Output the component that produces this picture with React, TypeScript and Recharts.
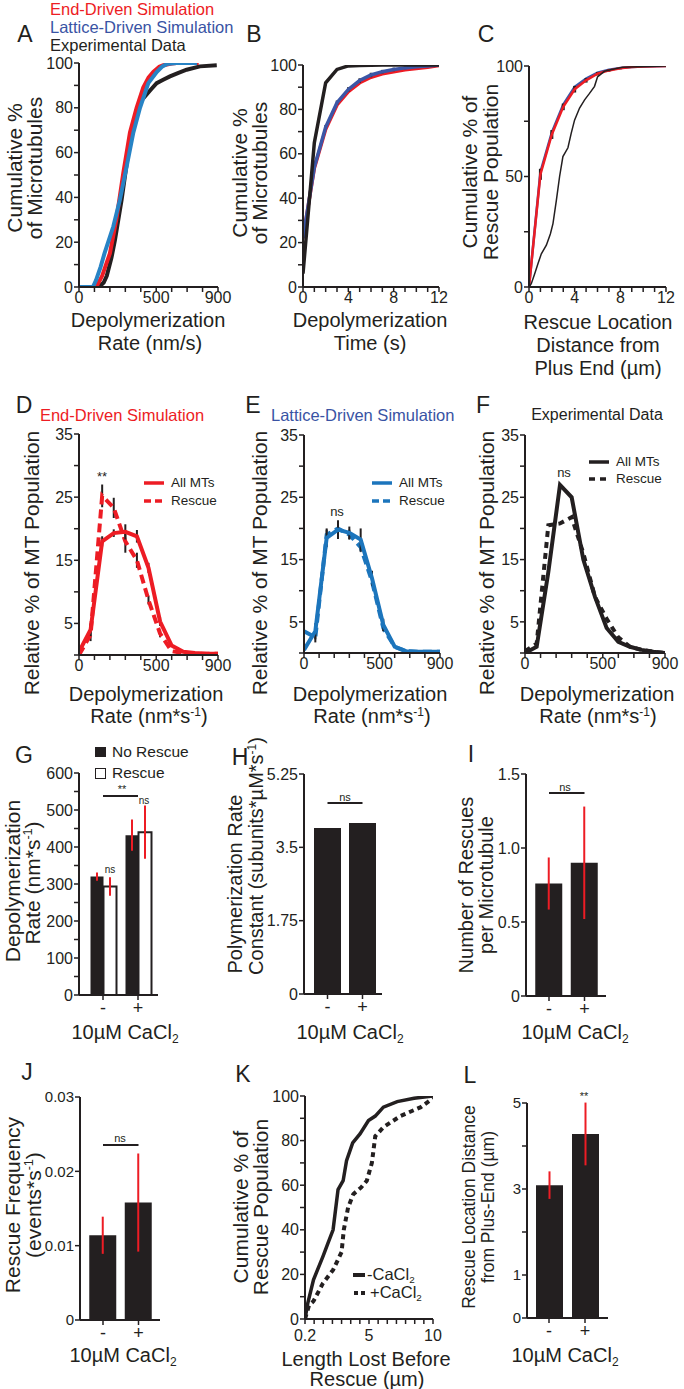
import React from 'react';
import {
  LineChart,
  Line,
  BarChart,
  Bar,
  XAxis,
  YAxis,
  ErrorBar,
  ReferenceLine,
} from 'recharts';

const FONT = '"Liberation Sans", Arial, Helvetica, sans-serif';
const INK = '#231f20';
const RED = '#ed1c24';
const BLUE_TXT = '#3953a4';
const SKY = '#2783c5';
const ROYAL = '#3b56a6';
const E_BLUE = '#1c75bc';

// A: depolymerization rate, cumulative %
const aEndX = [0, 100, 120, 150, 200, 244, 287, 330, 373, 416, 450, 481, 520, 546, 600, 632, 775];
const aEndY = [0, 0, 1, 5, 15, 31, 51, 69, 80, 89, 93.5, 96, 98.3, 99, 99.8, 100, 100];
const aLatX = [0, 90, 110, 140, 165, 222, 265, 309, 352, 395, 449, 503, 540, 568, 632, 765];
const aLatY = [0, 0, 3, 9, 15, 27, 39, 54, 69, 80, 91, 96, 98.5, 99.5, 100, 100];
const aExpX = [0, 130, 160, 180, 210, 233, 276, 319, 350, 373, 400, 438, 470, 503, 545, 589, 640, 697, 783, 892];
const aExpY = [0, 0, 2, 5, 13, 21, 39, 60, 71, 79, 83, 86, 88.5, 91, 92.5, 94, 95.5, 97, 98.5, 99];

// B: depolymerization time (s)
const SECONDS = [0, 1, 2, 3, 4, 5, 6, 7, 8, 9, 10, 11, 12];
const bExp = [6, 65, 92, 98, 99.6, 99.8, 99.9, 100, 100, 100, 100, 100, 100];
const bLat = [22, 54, 72, 83, 89, 93, 95.5, 97, 98, 98.7, 99.2, 99.6, 100];
const bEnd = [22, 53.5, 71, 82, 88, 92, 94.5, 96, 97, 97.8, 98.4, 99, 99.8];
const bErr = [0, 1, 1, 1, 1, 1, 1, 0.8, 0.8, 0.6, 0.5, 0.4, 0];

// C: rescue location distance from plus end (µm)
const cEnd = [0, 51, 69, 81.5, 89.5, 93.5, 96.5, 98, 99, 99.5, 99.8, 99.9, 100];
const cLat = [0, 52, 70, 82.5, 90.5, 94.3, 97, 98.3, 99.1, 99.5, 99.8, 99.9, 100];
const cErr = [0, 2.5, 2, 1.5, 1.5, 1, 0.8, 0.6, 0.5, 0.4, 0, 0, 0];
const cExpX = [0, 0.2, 0.5, 0.79, 1.08, 1.52, 1.87, 2.1, 2.39, 2.68, 2.97, 3.41, 3.7, 3.99, 4.43, 4.87, 5.3, 5.74, 6, 6.6, 7.35, 8.2, 9.7, 12];
const cExpY = [0, 1.5, 6, 10.6, 15, 18.9, 24, 28.7, 39, 50, 59, 63, 69.6, 75.5, 81, 84.7, 87.6, 90.8, 95, 97.6, 98.5, 99.4, 99.7, 100];

// D-F: relative % of MT population per rate bin (nm/s)
const BINS = [0, 75, 150, 225, 300, 375, 450, 525, 600, 675, 750, 825, 900];
const dAll = [0.5, 4, 18, 19.3, 19.5, 18.8, 13.8, 5.3, 1.5, 0.5, 0.3, 0.2, 0.2];
const dRescue = [0, 3.2, 25.2, 23.3, 18, 15, 8.7, 3.4, 0.6, 0.3, 0.2, 0.2, 0.2];
const dAllErr = [0, 1, 0.8, 0.6, 1.2, 1, 0.8, 0.7, 0, 0, 0, 0, 0];
const dRescueErr = [0, 1, 1.8, 1.6, 1.8, 1.2, 0.7, 0.6, 0, 0, 0, 0, 0];
const eAll = [0.5, 3.5, 18.5, 19.8, 19.3, 18.2, 12, 4.5, 1, 0.3, 0.2, 0.2, 0.2];
const eRescue = [3.5, 2.5, 19, 20, 19, 17, 11.5, 4, 1, 0.3, 0.2, 0.2, 0.2];
const eAllErr = [0, 1.3, 1.5, 1.5, 1, 1.8, 1.2, 1, 0, 0, 0, 0, 0];
const eRescueErr = [0, 0.8, 0.8, 0.8, 0.8, 0.8, 0.8, 0.5, 0, 0, 0, 0, 0];
const fAll = [0, 1, 13, 27, 25, 15, 9, 4, 1.8, 1, 0.5, 0.2, 0];
const fRescue = [0.3, 1.5, 20.5, 20.8, 21.8, 16, 9, 5.5, 2.5, 1, 0.5, 0.2, 0];

// G-J, L: bar panels (- / + 10µM CaCl2)
const GROUPS = ['-', '+'];
const gNoRescue = [320, 432];
const gNoRescueErr = [11, 42];
const gRescue = [293, 440];
const gRescueErr = [25, 72];
const hPolyRate = [3.96, 4.08];
const iRescues = [0.76, 0.9];
const iRescuesErr = [0.176, 0.38];
const jFreq = [0.0114, 0.0158];
const jFreqErr = [0.0025, 0.0066];
const lDist = [3.09, 4.28];
const lDistErr = [0.32, 0.73];

// K: length lost before rescue (µm)
const kMinusX = [0.2, 0.41, 0.85, 1.57, 1.96, 2.35, 2.73, 3.12, 3.38, 3.85, 4.41, 5.06, 5.58, 6.2, 7.26, 8.55, 10];
const kMinusY = [0, 7, 17.6, 28, 34, 40, 58, 62, 71, 79, 83, 89, 91, 95, 97.5, 99, 100];
const kPlusX = [0.2, 0.5, 0.85, 1.57, 2.35, 3.0, 3.17, 3.5, 3.9, 4.5, 4.93, 5.32, 5.58, 6.2, 7.5, 9.07, 10];
const kPlusY = [0, 6, 8, 16, 22, 30, 40, 50, 56, 59, 62, 70, 82, 86, 91, 95, 99];

const RATE_TICKS = [0, 100, 200, 300, 400, 500, 600, 700, 800, 900];
const PCT_TICKS = [0, 10, 20, 30, 40, 50, 60, 70, 80, 90, 100];
const REL_TICKS = [0, 5, 10, 15, 20, 25, 30, 35];
const K_TICKS = [0.2, 0.9, 1.6, 2.3, 3.0, 3.7, 4.4, 5.1, 5.8, 6.5, 7.2, 7.9, 8.6, 9.3, 10];

const YW = 50;
const MT = 12;
const MR = 14;
const XH = 30;

const pts = (xs: number[], ys: number[]) => xs.map((x, i) => ({ x, y: ys[i] }));
const only = (labels: number[], f: (v: number) => string = String) => (v: number) =>
  labels.some((l) => Math.abs(l - v) < 1e-9) ? f(v) : '';

const axisStyle = (size: number) => ({
  axisLine: { stroke: INK, strokeWidth: 2 },
  tickLine: { stroke: INK, strokeWidth: 1.5 },
  tickSize: 5,
  tickMargin: 1,
  tick: { fill: INK, fontSize: size, fontFamily: FONT },
  interval: 0 as const,
});

function Plot({ box, xs, ys, bar, data, pad, size = 16, xMargin = 0, children }: any) {
  const [pl, pt, pr, pb] = box;
  const w = pr - pl + YW + MR;
  const h = pb - pt + MT + XH;
  const axis = axisStyle(size);
  const margin = { top: MT, right: MR, left: 0, bottom: 0 };
  const yAxis = (
    <YAxis type="number" domain={ys.domain} ticks={ys.ticks} tickFormatter={ys.fmt} width={YW} allowDataOverflow {...axis} />
  );
  return (
    <div style={{ position: 'absolute', left: pl - YW, top: pt - MT }}>
      {bar ? (
        <BarChart width={w} height={h} data={data} margin={margin} barGap={0}>
          <XAxis dataKey="g" type="category" padding={pad} height={XH} {...axis} tick={{ fill: INK, fontSize: 18, fontFamily: FONT }} />
          {yAxis}
          {children}
        </BarChart>
      ) : (
        <LineChart width={w} height={h} margin={margin}>
          <XAxis dataKey="x" type="number" domain={xs.domain} ticks={xs.ticks} tickFormatter={xs.fmt} height={XH} allowDataOverflow {...axis} tickMargin={xMargin} />
          {yAxis}
          {children}
        </LineChart>
      )}
    </div>
  );
}

function T({ x, y, s = 20, c = INK, a = 'middle', children }: any) {
  const tx = a === 'middle' ? '-50%' : a === 'end' ? '-100%' : '0';
  return (
    <div
      style={{
        position: 'absolute',
        left: x,
        top: y,
        transform: `translate(${tx}, -50%)`,
        fontSize: s,
        color: c,
        whiteSpace: 'nowrap',
        lineHeight: 1,
      }}
    >
      {children}
    </div>
  );
}

function VT({ x, y, s = 21, children }: any) {
  return (
    <div
      style={{
        position: 'absolute',
        left: x,
        top: y,
        transform: 'translate(-50%, -50%) rotate(-90deg)',
        fontSize: s,
        color: INK,
        whiteSpace: 'nowrap',
        lineHeight: 1,
      }}
    >
      {children}
    </div>
  );
}

const Sub = ({ children }: any) => <span style={{ fontSize: '0.6em', position: 'relative', top: '0.35em' }}>{children}</span>;
const Sup = ({ children }: any) => <span style={{ fontSize: '0.6em', position: 'relative', top: '-0.6em' }}>{children}</span>;
const Ca = () => (
  <>
    10µM CaCl<Sub>2</Sub>
  </>
);
const PerS = () => (
  <>
    s<Sup>-1</Sup>
  </>
);

function Swatch({ x, y, w = 20, color, dash, sw = 3.5 }: any) {
  return (
    <svg style={{ position: 'absolute', left: x, top: y - 4 }} width={w} height={8}>
      <line x1={0} y1={4} x2={w} y2={4} stroke={color} strokeWidth={sw} strokeDasharray={dash} />
    </svg>
  );
}

function binRows(all: number[], rescue: number[], allErr?: number[], rescueErr?: number[]) {
  return BINS.map((x, i) => ({
    x,
    all: all[i],
    rescue: rescue[i],
    allErr: allErr ? allErr[i] : 0,
    rescueErr: rescueErr ? rescueErr[i] : 0,
  }));
}

function DistPanel({ box, rows, color, dash, err }: any) {
  return (
    <Plot
      box={box}
      xs={{ domain: [0, 900], ticks: RATE_TICKS, fmt: only([0, 500, 900]) }}
      ys={{ domain: [0, 35], ticks: REL_TICKS, fmt: only([5, 15, 25, 35]) }}
    >
      <Line data={rows} dataKey="rescue" type="linear" stroke={color} strokeWidth={4} strokeDasharray={dash} dot={false} isAnimationActive={false}>
        {err && <ErrorBar dataKey="rescueErr" width={0} stroke={INK} strokeWidth={2} direction="y" />}
      </Line>
      <Line data={rows} dataKey="all" type="linear" stroke={color} strokeWidth={4} dot={false} isAnimationActive={false}>
        {err && <ErrorBar dataKey="allErr" width={0} stroke={INK} strokeWidth={2} direction="y" />}
      </Line>
    </Plot>
  );
}

const rowsOf = (vals: number[], errs?: number[]) =>
  GROUPS.map((g, i) => ({ g, v: vals[i], err: errs ? errs[i] : 0 }));

const gRows = GROUPS.map((g, i) => ({
  g,
  noRescue: gNoRescue[i],
  noRescueErr: gNoRescueErr[i],
  rescue: gRescue[i],
  rescueErr: gRescueErr[i],
}));

const bRows = SECONDS.map((x, i) => ({ x, exp: bExp[i], lat: bLat[i], end: bEnd[i], err: bErr[i] }));
const cRows = SECONDS.map((x, i) => ({ x, end: cEnd[i], lat: cLat[i], err: cErr[i] }));

export default function App() {
  return (
    <div
      style={{
        position: 'absolute',
        left: 0,
        top: 0,
        width: 684,
        height: 1389,
        background: '#fff',
        fontFamily: FONT,
        color: INK,
        overflow: 'hidden',
      }}
    >
      {/* ---------- row 1 ---------- */}
      <T x={50} y={9} s={16.5} c={RED} a="start">End-Driven Simulation</T>
      <T x={50} y={27} s={16.5} c={BLUE_TXT} a="start">Lattice-Driven Simulation</T>
      <T x={50} y={45} s={16.5} a="start">Experimental Data</T>
      <T x={25} y={34} s={23}>A</T>
      <T x={254} y={34} s={23}>B</T>
      <T x={486} y={34} s={23}>C</T>

      <Plot
        box={[79, 63, 218, 287]}
        xs={{ domain: [0, 900], ticks: RATE_TICKS, fmt: only([0, 500, 900]) }}
        ys={{ domain: [0, 100], ticks: PCT_TICKS, fmt: only([0, 20, 40, 60, 80, 100]) }}
      >
        <Line data={pts(aExpX, aExpY)} dataKey="y" stroke={INK} strokeWidth={4} dot={false} isAnimationActive={false} />
        <Line data={pts(aEndX, aEndY)} dataKey="y" stroke={RED} strokeWidth={4} dot={false} isAnimationActive={false} />
        <Line data={pts(aLatX, aLatY)} dataKey="y" stroke={SKY} strokeWidth={4} dot={false} isAnimationActive={false} />
      </Plot>
      <VT x={14} y={168}>Cumulative %</VT>
      <VT x={34} y={168}>of Microtubules</VT>
      <T x={148} y={320}>Depolymerization</T>
      <T x={150} y={343}>Rate (nm/s)</T>

      <Plot
        box={[303, 65, 439, 287]}
        xs={{ domain: [0, 12], ticks: SECONDS, fmt: only([0, 4, 8, 12]) }}
        ys={{ domain: [0, 100], ticks: PCT_TICKS, fmt: only([0, 20, 40, 60, 80, 100]) }}
      >
        <Line data={bRows} dataKey="end" stroke={RED} strokeWidth={3.5} dot={false} isAnimationActive={false} />
        <Line data={bRows} dataKey="lat" stroke={ROYAL} strokeWidth={3.5} dot={false} isAnimationActive={false}>
          <ErrorBar dataKey="err" width={0} stroke={INK} strokeWidth={2.5} direction="y" />
        </Line>
        <Line data={bRows} dataKey="exp" stroke={INK} strokeWidth={3.5} dot={false} isAnimationActive={false} />
      </Plot>
      <VT x={239} y={173}>Cumulative %</VT>
      <VT x={259} y={173}>of Microtubules</VT>
      <T x={370} y={320}>Depolymerization</T>
      <T x={370} y={343}>Time (s)</T>

      <Plot
        box={[529, 66, 666, 287]}
        xs={{ domain: [0, 12], ticks: SECONDS, fmt: only([0, 4, 8, 12]) }}
        ys={{ domain: [0, 100], ticks: [0, 25, 50, 75, 100], fmt: only([0, 50, 100]) }}
      >
        <Line data={cRows} dataKey="lat" stroke={ROYAL} strokeWidth={2.5} dot={false} isAnimationActive={false} />
        <Line data={cRows} dataKey="end" stroke={RED} strokeWidth={2.5} dot={false} isAnimationActive={false}>
          <ErrorBar dataKey="err" width={0} stroke={INK} strokeWidth={3} direction="y" />
        </Line>
        <Line data={pts(cExpX, cExpY)} dataKey="y" stroke={INK} strokeWidth={1.5} dot={false} isAnimationActive={false} />
      </Plot>
      <VT x={469} y={172}>Cumulative % of</VT>
      <VT x={490} y={172}>Rescue Population</VT>
      <T x={598} y={322}>Rescue Location</T>
      <T x={598} y={345}>Distance from</T>
      <T x={598} y={368}>Plus End (µm)</T>

      {/* ---------- row 2 ---------- */}
      <T x={24} y={405} s={23}>D</T>
      <T x={122} y={415} s={16.5} c={RED}>End-Driven Simulation</T>
      <T x={253} y={405} s={23}>E</T>
      <T x={271} y={415} s={16.5} c={BLUE_TXT} a="start">Lattice-Driven Simulation</T>
      <T x={483} y={405} s={23}>F</T>
      <T x={597} y={415} s={16}>Experimental Data</T>

      <DistPanel box={[79, 434, 218, 655]} rows={binRows(dAll, dRescue, dAllErr, dRescueErr)} color={RED} dash="9 5" err />
      <DistPanel box={[304, 435, 440, 653]} rows={binRows(eAll, eRescue, eAllErr, eRescueErr)} color={E_BLUE} dash="9 5" err />
      <DistPanel box={[525, 435, 665, 653]} rows={binRows(fAll, fRescue)} color={INK} dash="6 5" />

      <Swatch x={144} y={483} color={RED} />
      <Swatch x={144} y={501} color={RED} dash="7 4" />
      <T x={171} y={483} s={13.5} a="start">All MTs</T>
      <T x={171} y={501} s={13.5} a="start">Rescue</T>
      <Swatch x={372} y={483} color={E_BLUE} />
      <Swatch x={372} y={501} color={E_BLUE} dash="7 4" />
      <T x={399} y={483} s={13.5} a="start">All MTs</T>
      <T x={399} y={501} s={13.5} a="start">Rescue</T>
      <Swatch x={589} y={462} color={INK} />
      <Swatch x={589} y={479} color={INK} dash="6 5" />
      <T x={616} y={462} s={13.5} a="start">All MTs</T>
      <T x={616} y={479} s={13.5} a="start">Rescue</T>

      <T x={102} y={476} s={13}>**</T>
      <T x={337} y={511} s={13}>ns</T>
      <T x={564} y={472} s={13}>ns</T>

      <VT x={31} y={563}>Relative % of MT Population</VT>
      <VT x={259} y={563}>Relative % of MT Population</VT>
      <VT x={486} y={563}>Relative % of MT Population</VT>
      <T x={146} y={694}>Depolymerization</T>
      <T x={149} y={716}>Rate (nm*<PerS />)</T>
      <T x={370} y={694}>Depolymerization</T>
      <T x={372} y={716}>Rate (nm*<PerS />)</T>
      <T x={597} y={694}>Depolymerization</T>
      <T x={598} y={716}>Rate (nm*<PerS />)</T>

      {/* ---------- row 3 ---------- */}
      <T x={24} y={755} s={23}>G</T>
      <T x={240} y={757} s={23}>H</T>
      <T x={471} y={754} s={23}>I</T>

      <div style={{ position: 'absolute', left: 95, top: 747, width: 11, height: 10, background: INK }} />
      <div style={{ position: 'absolute', left: 95, top: 768, width: 9, height: 9, border: `1.5px solid ${INK}`, background: '#fff' }} />
      <T x={112} y={752} s={15.5} a="start">No Rescue</T>
      <T x={112} y={773} s={15.5} a="start">Rescue</T>

      <Plot
        bar
        box={[79, 773, 158, 995]}
        data={gRows}
        pad={{ left: 6.5, right: 2.5 }}
        ys={{ domain: [0, 600], ticks: [0, 50, 100, 150, 200, 250, 300, 350, 400, 450, 500, 550, 600], fmt: only([0, 100, 200, 300, 400, 500, 600]) }}
      >
        <Bar dataKey="noRescue" barSize={13} fill={INK} isAnimationActive={false}>
          <ErrorBar dataKey="noRescueErr" width={0} stroke={RED} strokeWidth={2} direction="y" />
        </Bar>
        <Bar dataKey="rescue" barSize={13} fill="#fff" stroke={INK} strokeWidth={2} isAnimationActive={false}>
          <ErrorBar dataKey="rescueErr" width={0} stroke={RED} strokeWidth={2} direction="y" />
        </Bar>
        <ReferenceLine segment={[{ x: '-', y: 538 }, { x: '+', y: 538 }]} stroke={INK} strokeWidth={2} ifOverflow="visible" />
      </Plot>
      <T x={122} y={789} s={11}>**</T>
      <T x={110} y={870} s={10}>ns</T>
      <T x={144} y={801} s={10}>ns</T>
      <VT x={12} y={881}>Depolymerization</VT>
      <VT x={32} y={883}>Rate (nm*<PerS />)</VT>
      <T x={125} y={1032}><Ca /></T>

      <Plot
        bar
        box={[304, 774, 382, 994]}
        data={rowsOf(hPolyRate)}
        pad={{ left: 6, right: 2 }}
        ys={{ domain: [0, 5.25], ticks: [0, 1.75, 3.5, 5.25], fmt: String }}
      >
        <Bar dataKey="v" barSize={27} fill={INK} isAnimationActive={false} />
        <ReferenceLine segment={[{ x: '-', y: 4.56 }, { x: '+', y: 4.56 }]} stroke={INK} strokeWidth={2} ifOverflow="visible" />
      </Plot>
      <T x={345} y={797} s={11}>ns</T>
      <VT x={235} y={884} s={20}>Polymerization Rate</VT>
      <VT x={256} y={856} s={20}>Constant (subunits*µM*<PerS />)</VT>
      <T x={350} y={1032}><Ca /></T>

      <Plot
        bar
        box={[526, 774, 606, 996]}
        data={rowsOf(iRescues, iRescuesErr)}
        pad={{ left: 5.25, right: 3.75 }}
        ys={{ domain: [0, 1.5], ticks: [0, 0.5, 1, 1.5], fmt: (v: number) => (v === 0 ? '0' : v.toFixed(1)) }}
      >
        <Bar dataKey="v" barSize={27} fill={INK} isAnimationActive={false}>
          <ErrorBar dataKey="err" width={0} stroke={RED} strokeWidth={2} direction="y" />
        </Bar>
        <ReferenceLine segment={[{ x: '-', y: 1.371 }, { x: '+', y: 1.371 }]} stroke={INK} strokeWidth={2} ifOverflow="visible" />
      </Plot>
      <T x={565} y={787} s={11}>ns</T>
      <VT x={466} y={885} s={20}>Number of Rescues</VT>
      <VT x={486} y={885} s={20}>per Microtubule</VT>
      <T x={575} y={1032}><Ca /></T>

      {/* ---------- row 4 ---------- */}
      <T x={27} y={1072} s={23}>J</T>
      <T x={243} y={1074} s={23}>K</T>
      <T x={470} y={1075} s={23}>L</T>

      <Plot
        bar
        box={[80, 1097, 160, 1320]}
        data={rowsOf(jFreq, jFreqErr)}
        pad={{ left: 5.25, right: 3.75 }}
        size={15}
        ys={{ domain: [0, 0.03], ticks: [0, 0.01, 0.02, 0.03], fmt: (v: number) => (v === 0 ? '0' : v.toFixed(2)) }}
      >
        <Bar dataKey="v" barSize={27} fill={INK} isAnimationActive={false}>
          <ErrorBar dataKey="err" width={0} stroke={RED} strokeWidth={2} direction="y" />
        </Bar>
        <ReferenceLine segment={[{ x: '-', y: 0.02354 }, { x: '+', y: 0.02354 }]} stroke={INK} strokeWidth={2} ifOverflow="visible" />
      </Plot>
      <T x={120} y={1138} s={11}>ns</T>
      <VT x={12} y={1205}>Rescue Frequency</VT>
      <VT x={33} y={1205}>(events*<PerS />)</VT>
      <T x={123} y={1355}><Ca /></T>

      <Plot
        box={[305, 1096, 433, 1319]}
        xMargin={6}
        xs={{ domain: [0.2, 10], ticks: K_TICKS, fmt: (v: number) => (v === 0.2 ? '0.2' : v === 5.1 ? '5' : v === 10 ? '10' : '') }}
        ys={{ domain: [0, 100], ticks: PCT_TICKS, fmt: only([0, 20, 40, 60, 80, 100]) }}
      >
        <Line data={pts(kMinusX, kMinusY)} dataKey="y" stroke={INK} strokeWidth={3.5} dot={false} isAnimationActive={false} />
        <Line data={pts(kPlusX, kPlusY)} dataKey="y" stroke={INK} strokeWidth={4} strokeDasharray="5 4" dot={false} isAnimationActive={false} />
      </Plot>
      <Swatch x={353} y={1275} w={12} color={INK} sw={4} />
      <Swatch x={354} y={1293} w={13} color={INK} sw={4} dash="4 3" />
      <T x={367} y={1274} s={16.5} a="start">-CaCl<Sub>2</Sub></T>
      <T x={370} y={1292} s={16.5} a="start">+CaCl<Sub>2</Sub></T>
      <VT x={240} y={1207}>Cumulative % of</VT>
      <VT x={260} y={1207}>Rescue Population</VT>
      <T x={366} y={1359}>Length Lost Before</T>
      <T x={367} y={1379}>Rescue (µm)</T>

      <Plot
        bar
        box={[527, 1103, 608, 1318]}
        data={rowsOf(lDist, lDistErr)}
        pad={{ left: 4, right: 5 }}
        size={15}
        ys={{ domain: [0, 5], ticks: [0, 1, 2, 3, 4, 5], fmt: only([0, 1, 3, 5]) }}
      >
        <Bar dataKey="v" barSize={27} fill={INK} isAnimationActive={false}>
          <ErrorBar dataKey="err" width={0} stroke={RED} strokeWidth={2} direction="y" />
        </Bar>
      </Plot>
      <T x={584} y={1096} s={11}>**</T>
      <VT x={470} y={1207} s={17.5}>Rescue Location Distance</VT>
      <VT x={489} y={1207} s={17.5}>from Plus-End (µm)</VT>
      <T x={565} y={1355}><Ca /></T>
    </div>
  );
}
